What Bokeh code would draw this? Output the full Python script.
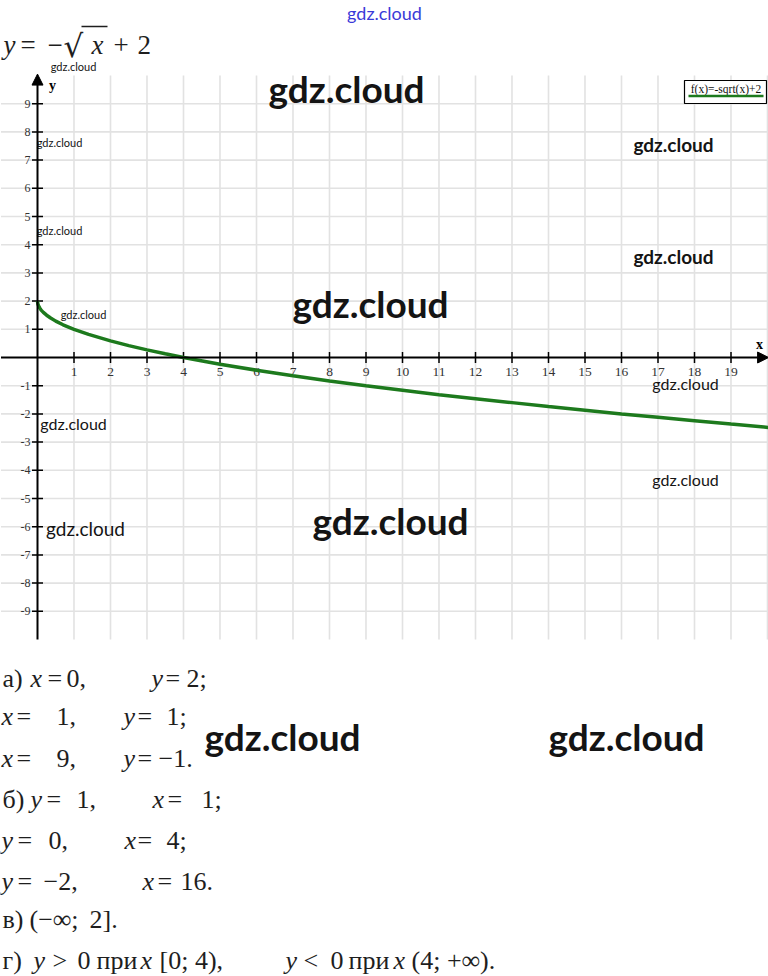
from bokeh.plotting import figure
from bokeh.models import Range1d, Arrow, NormalHead
from bokeh.embed import file_html
from bokeh.resources import INLINE
from bokeh.core.properties import value

# ---------------- data ----------------
x_ticks = list(range(1, 20))
x_tick_labels = [str(t) for t in x_ticks]
y_ticks = [-9, -8, -7, -6, -5, -4, -3, -2, -1, 1, 2, 3, 4, 5, 6, 7, 8, 9]
y_tick_labels = [str(t) for t in y_ticks]
grid_x = list(range(1, 21))
grid_y = [-9, -8, -7, -6, -5, -4, -3, -2, -1, 1, 2, 3, 4, 5, 6, 7, 8, 9]

curve_x = [0, 0.01, 0.03, 0.06, 0.1, 0.16, 0.25, 0.36, 0.5, 0.7, 1, 1.4, 2, 2.5, 3,
           3.5, 4, 5, 6, 7, 8, 9, 10, 11, 12, 13, 14, 15, 16, 17, 18, 19, 20.03]
curve_y = [2, 1.9, 1.83, 1.76, 1.68, 1.6, 1.5, 1.4, 1.29, 1.16, 1, 0.82, 0.59, 0.42, 0.27,
           0.13, 0, -0.24, -0.45, -0.65, -0.83, -1, -1.16, -1.32, -1.46, -1.6, -1.74,
           -1.87, -2, -2.12, -2.24, -2.36, -2.48]
legend_label = "f(x)=-sqrt(x)+2"
x_min, x_max = -1.0, 20.03
y_min, y_max = -10.0, 10.05

# ---------------- page geometry (reference pixels -> data) ----------------
W, H = 768, 976
OX, OY, SX, SY = 37.0, 357.0, 36.5, 28.2


def X(px):
    return (px - OX) / SX


def Y(py):
    return (OY - py) / SY


p = figure(width=W, height=H, x_range=Range1d(X(0), X(W)), y_range=Range1d(Y(H), Y(0)),
           output_backend="svg", toolbar_location=None, min_border=0,
           x_axis_type=None, y_axis_type=None, outline_line_color=None,
           margin=(0, 0, 0, 0))
p.grid.visible = False
p.background_fill_color = "white"
p.border_fill_color = "white"

SERIF = value("Liberation Serif")
LATO = value("Lato")

# grid
p.segment(x0=grid_x, y0=[y_min] * len(grid_x), x1=grid_x, y1=[y_max - 0.05] * len(grid_x),
          line_color="#e2e2e2", line_width=1.6)
p.segment(x0=[x_min] * len(grid_y), y0=grid_y, x1=[x_max] * len(grid_y), y1=grid_y,
          line_color="#e2e2e2", line_width=1.6)

# axes with arrows
p.add_layout(Arrow(x_start=0, y_start=y_min, x_end=0, y_end=y_max, line_color="black",
                   line_width=2, end=NormalHead(size=11, fill_color="black", line_color="black")))
p.add_layout(Arrow(x_start=x_min, y_start=0, x_end=x_max, y_end=0, line_color="black",
                   line_width=2, end=NormalHead(size=11, fill_color="black", line_color="black")))

# ticks
tx = 5.5 / SY
ty = 5.5 / SX
p.segment(x0=x_ticks, y0=[-tx] * len(x_ticks), x1=x_ticks, y1=[tx] * len(x_ticks),
          line_color="black", line_width=1.5)
p.segment(x0=[-ty] * len(y_ticks), y0=y_ticks, x1=[ty] * len(y_ticks), y1=y_ticks,
          line_color="black", line_width=1.5)

# tick labels
p.text(x=x_ticks, y=[Y(371)] * len(x_ticks), text=x_tick_labels, text_font=SERIF,
       text_font_size="13.5px", text_align="center", text_baseline="middle", text_color="#333")
p.text(x=[X(30)] * len(y_ticks), y=y_ticks, text=y_tick_labels, text_font=SERIF,
       text_font_size="12px", text_align="right", text_baseline="middle", text_color="#333")

# axis names
p.text(x=[X(759)], y=[Y(344)], text=["x"], text_font=SERIF, text_font_size="14px",
       text_font_style="bold", text_align="center", text_baseline="middle", text_color="black")
p.text(x=[X(52)], y=[Y(85)], text=["y"], text_font=SERIF, text_font_size="14px",
       text_font_style="bold", text_align="center", text_baseline="middle", text_color="black")

# curve
p.line(curve_x, curve_y, line_color="#1d7a1d", line_width=3.5)

# legend box
p.quad(left=[X(684)], right=[X(766)], top=[Y(80)], bottom=[Y(103)], fill_color="white",
       line_color="black", line_width=1.2)
p.text(x=[X(725.5)], y=[Y(88)], text=[legend_label], text_font=SERIF, text_font_size="11.5px",
       text_align="center", text_baseline="middle", text_color="#111")
p.segment(x0=[X(688)], y0=[Y(95.5)], x1=[X(763)], y1=[Y(95.5)], line_color="#1d7a1d", line_width=2.5)


def txt(px, py, s, size, style="normal", font=SERIF, color="#1e1e1e", align="left",
        baseline="middle"):
    p.text(x=[X(px)], y=[Y(py)], text=[s], text_font=font, text_font_size=size,
           text_font_style=style, text_color=color, text_align=align, text_baseline=baseline)


# title formula
TS = "27px"
TB = 44
txt(3, TB, "y", TS, "italic")
txt(20, TB, "=", TS)
txt(47, TB, "\u2212", TS)
txt(63, TB + 1, "\u221a", "31px", font=value("DejaVu Serif"))
txt(91, TB, "x", TS, "italic")
txt(113, TB, "+", TS)
txt(137, TB, "2", TS)
p.segment(x0=[X(81)], y0=[Y(26)], x1=[X(107)], y1=[Y(26)], line_color="#1e1e1e", line_width=1.3)

# answers
AS = "26px"
I = "italic"
lines = [
    (678, [(2, "а)", None), (30, "x", I), (47, "=", None), (66, "0,", None),
           (151, "y", I), (165, "=", None), (186, "2;", None)]),
    (716, [(1, "x", I), (16, "=", None), (56, "1,", None),
           (123, "y", I), (137, "=", None), (166, "1;", None)]),
    (758, [(1, "x", I), (16, "=", None), (56, "9,", None),
           (123, "y", I), (137, "=", None), (158, "\u22121.", None)]),
    (799, [(2, "б)", None), (30, "y", I), (46, "=", None), (76, "1,", None),
           (152, "x", I), (167, "=", None), (201, "1;", None)]),
    (840, [(1, "y", I), (17, "=", None), (48, "0,", None),
           (124, "x", I), (137, "=", None), (166, "4;", None)]),
    (881, [(1, "y", I), (17, "=", None), (43, "\u22122,", None),
           (142, "x", I), (157, "=", None), (180, "16.", None)]),
    (919, [(2, "в)", None), (29, "(\u2212\u221e;", None), (89, "2].", None)]),
    (960, [(2, "г)", None), (33, "y", I), (52, ">", None), (77, "0", None),
           (96, "при", None), (140, "x", I), (159, "[0; 4),", None),
           (285, "y", I), (303, "<", None), (330, "0", None), (348, "при", None),
           (393, "x", I), (411, "(4;  +\u221e).", None)]),
]
for base, pieces in lines:
    for px, s, st in pieces:
        txt(px, base, s, AS, st if st else "normal")

# watermarks
WM = "#141414"
wm = [
    (346, 88, "37px", "bold"), (370, 303, "37px", "bold"), (390, 520, "37px", "bold"),
    (282, 736, "37px", "bold"), (626, 736, "37px", "bold"),
    (673, 144, "19px", "bold"), (673, 256, "19px", "bold"),
    (685, 383, "16px", "normal"), (685, 479, "16px", "normal"),
    (73, 423, "16px", "normal"), (85, 528, "19px", "normal"),
    (73, 66, "11px", "normal"), (59, 142, "11px", "normal"), (59, 230, "11px", "normal"),
    (83, 314, "11px", "normal"),
]
for px, py, sz, st in wm:
    txt(px, py, "gdz.cloud", sz, st, font=LATO, color=WM, align="center")
txt(384, 12, "gdz.cloud", "18px", "normal", font=LATO, color="#3a3ad8", align="center")

open("out.html", "w").write(file_html(p, INLINE))
